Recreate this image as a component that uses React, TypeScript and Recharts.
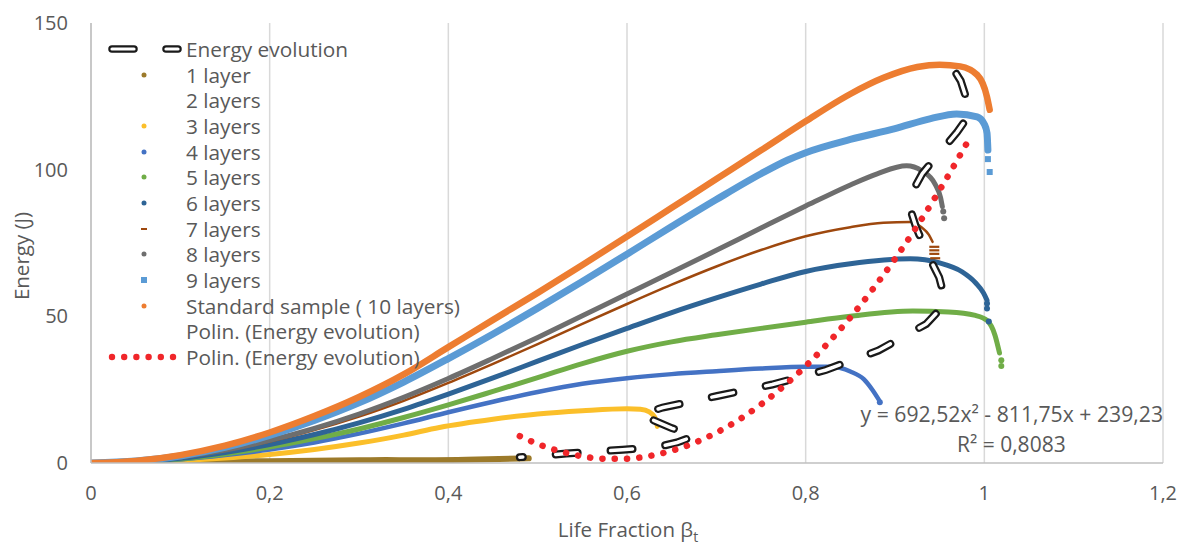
import React from 'react';
import { ComposedChart, Line, XAxis, YAxis, CartesianGrid } from 'recharts';

type P = [number, number];

const xTicks = [0, 0.2, 0.4, 0.6, 0.8, 1, 1.2];
const yTicks = [0, 50, 100, 150];

const energyEvolution: P[] = [
  [0.48, 2.0], [0.532, 3.2], [0.595, 4.5], [0.635, 5.5], [0.656, 7.0], [0.677, 9.3],
  [0.65, 11.9], [0.615, 16.5], [0.64, 18.9], [0.701, 22.85], [0.7625, 26.75],
  [0.8225, 31.7], [0.8815, 38.35], [0.935, 47.4], [0.957, 54.5], [0.9495, 63.25],
  [0.936, 71.5], [0.9235, 80.45], [0.914, 89.5], [0.9305, 98.65], [0.9695, 112.8],
  [0.985, 119.5], [0.9735, 130.3], [0.962, 136],
];

const trendline: P[] = [
  [0.48, 9.15], [0.5, 6.49], [0.525, 4.0], [0.55, 2.26], [0.575, 1.45], [0.6, 1.49],
  [0.625, 2.4], [0.65, 4.18], [0.675, 6.8], [0.7, 10.34], [0.725, 14.7], [0.75, 19.96],
  [0.775, 26.1], [0.8, 33.04], [0.825, 40.9], [0.85, 49.59], [0.875, 59.2], [0.9, 69.6],
  [0.925, 80.9], [0.95, 93.07], [0.98, 108.8],
];

const layer1: P[] = [
  [0, 0], [0.05, 0.2], [0.1, 0.35], [0.2, 0.6], [0.3, 0.95], [0.33, 1.0], [0.36, 0.9],
  [0.42, 1.1], [0.49, 1.6],
];
const layer3: P[] = [
  [0, 0], [0.05, 0.2], [0.1, 0.8], [0.15, 1.7], [0.2, 2.9], [0.25, 4.6], [0.3, 6.8],
  [0.35, 9.5], [0.39, 12.1], [0.45, 14.9], [0.5, 16.7], [0.55, 17.8], [0.6, 18.5],
  [0.615, 18.3], [0.625, 17.4], [0.631, 15.6], [0.634, 12.5],
];
const layer4: P[] = [
  [0, 0], [0.05, 0.3], [0.1, 1.2], [0.15, 2.7], [0.2, 4.6], [0.25, 7.0], [0.3, 10.0],
  [0.35, 13.5], [0.4, 17.3], [0.45, 20.9], [0.5, 24.2], [0.55, 27.0], [0.6, 28.9],
  [0.65, 30.3], [0.7, 31.3], [0.75, 32.2], [0.8, 32.8], [0.83, 32.8], [0.85, 31.2],
  [0.865, 28.6], [0.875, 24.8], [0.882, 21.5],
];
const layer4Tail: P[] = [[0.883, 20.7]];
const layer5: P[] = [
  [0, 0], [0.05, 0.4], [0.1, 1.4], [0.15, 3.1], [0.2, 5.4], [0.25, 8.3], [0.3, 11.6],
  [0.35, 15.5], [0.4, 19.8], [0.45, 24.4], [0.5, 29.1], [0.55, 33.9], [0.6, 38.1],
  [0.65, 41.3], [0.7, 43.7], [0.75, 45.9], [0.8, 48.0], [0.85, 50.0], [0.92, 51.8],
  [0.96, 51.5], [0.99, 50.3], [1.003, 48.6], [1.012, 43.5], [1.017, 37.5],
];
const layer5Tail: P[] = [[1.019, 35.0], [1.019, 33.1]];
const layer6: P[] = [
  [0, 0], [0.05, 0.45], [0.1, 1.6], [0.15, 3.6], [0.2, 6.3], [0.25, 9.7], [0.3, 13.7],
  [0.35, 18.3], [0.4, 23.5], [0.45, 29.0], [0.5, 34.7], [0.55, 40.4], [0.6, 45.9],
  [0.65, 51.3], [0.7, 56.3], [0.75, 61.0], [0.8, 65.3], [0.85, 67.9], [0.917, 69.6],
  [0.95, 68.2], [0.975, 65.2], [0.99, 61.5], [0.999, 58.0], [1.003, 55.5],
];
const layer6Tail: P[] = [[1.003, 54.4], [1.003, 52.7], [1.005, 48.2]];
const layer7: P[] = [
  [0, 0], [0.05, 0.5], [0.1, 1.9], [0.15, 4.2], [0.2, 7.3], [0.25, 11.2], [0.3, 15.8],
  [0.35, 21.2], [0.4, 27.3], [0.45, 33.8], [0.5, 40.5], [0.55, 47.4], [0.6, 54.2],
  [0.65, 60.8], [0.7, 67.0], [0.75, 72.6], [0.8, 77.3], [0.85, 80.4], [0.887, 81.9],
  [0.917, 82.2], [0.93, 80.3], [0.938, 77.8], [0.942, 75.4],
];
const layer7Tail: P[] = [[0.944, 73.7], [0.944, 72.5], [0.944, 71.3], [0.945, 69.8]];
const layer8: P[] = [
  [0, 0], [0.05, 0.55], [0.1, 2.0], [0.15, 4.4], [0.2, 7.7], [0.25, 11.8], [0.3, 16.7],
  [0.35, 22.4], [0.4, 28.8], [0.45, 35.7], [0.5, 42.8], [0.55, 50.2], [0.6, 57.6],
  [0.65, 65.0], [0.7, 72.5], [0.75, 80.1], [0.8, 87.6], [0.85, 94.8], [0.88, 98.6],
  [0.913, 101.3], [0.93, 99.6], [0.945, 95.0], [0.951, 90.5], [0.953, 87.4],
];
const layer8Tail: P[] = [[0.954, 85.7], [0.955, 83.4]];
const layer9: P[] = [
  [0, 0], [0.05, 0.65], [0.1, 2.4], [0.15, 5.3], [0.2, 9.4], [0.25, 14.5], [0.3, 20.5],
  [0.35, 27.6], [0.4, 35.6], [0.45, 44.0], [0.5, 52.8], [0.55, 61.9], [0.6, 71.2],
  [0.65, 80.6], [0.7, 89.8], [0.75, 98.6], [0.78, 103.3], [0.8, 105.8], [0.85, 110.3],
  [0.9, 114.0], [0.94, 117.4], [0.969, 119.0], [0.992, 118.0], [1.0, 115.5], [1.003, 112.5],
  [1.004, 106.7],
];
const layer9Tail: P[] = [[1.004, 103.6], [1.006, 99.2]];
const layer10: P[] = [
  [0, 0], [0.05, 0.7], [0.1, 2.7], [0.15, 5.9], [0.2, 10.4], [0.25, 16.0], [0.3, 22.5],
  [0.35, 30.2], [0.4, 39.5], [0.45, 48.8], [0.5, 58.0], [0.55, 67.5], [0.6, 77.2],
  [0.65, 87.0], [0.7, 96.8], [0.75, 106.6], [0.8, 116.5], [0.85, 125.8], [0.887, 131.3],
  [0.925, 135.0], [0.95, 135.8], [0.973, 135.2], [0.992, 132.3], [1.003, 124.8], [1.006, 120.4],
];

const legendLabels = [
  'Energy evolution', '1 layer', '2 layers', '3 layers', '4 layers', '5 layers', '6 layers',
  '7 layers', '8 layers', '9 layers', 'Standard sample ( 10 layers)',
  'Polin. (Energy evolution)', 'Polin. (Energy evolution)',
];

const C = {
  l1: '#9C7A2A', l3: '#FBBF2A', l4: '#4472C4', l5: '#70AD47', l6: '#2E6496', l7: '#9E480E',
  l8: '#6E6E6E', l9: '#5B9BD5', l10: '#ED7D31', red: '#F0262A', text: '#595959',
};

const toRows = (a: P[]) => a.map(([x, y]) => ({ x, y }));
const FONT = '"Open Sans", Lato, sans-serif';

const circleDot = (color: string, r: number) => (p: any) =>
  <circle key={p.index} cx={p.cx} cy={p.cy} r={r} fill={color} />;
const squareDot = (color: string, s: number) => (p: any) =>
  <rect key={p.index} x={p.cx - s / 2} y={p.cy - s / 2} width={s} height={s} fill={color} />;
const dashDot = (color: string) => (p: any) =>
  <rect key={p.index} x={p.cx - 5} y={p.cy - 1.1} width={10} height={2.2} fill={color} />;

function body(key: string, data: P[], color: string, w: number) {
  return (
    <Line key={key} data={toRows(data)} dataKey="y" type="monotone" stroke={color}
      strokeWidth={w} strokeLinecap="round" strokeLinejoin="round" dot={false}
      activeDot={false} isAnimationActive={false} />
  );
}
function tail(key: string, data: P[], dot: any) {
  return (
    <Line key={key} data={toRows(data)} dataKey="y" type="linear" stroke="none"
      dot={dot} activeDot={false} isAnimationActive={false} />
  );
}

function LegendSymbol({ i }: { i: number }) {
  const cy = 12;
  if (i === 0) {
    return (
      <svg width={90} height={24}>
        <line x1={14} y1={cy} x2={36} y2={cy} stroke="#1a1a1a" strokeWidth={7.5} strokeLinecap="round" />
        <line x1={14} y1={cy} x2={36} y2={cy} stroke="#fff" strokeWidth={3.2} strokeLinecap="round" />
        <line x1={68} y1={cy} x2={80} y2={cy} stroke="#1a1a1a" strokeWidth={7.5} strokeLinecap="round" />
        <line x1={68} y1={cy} x2={80} y2={cy} stroke="#fff" strokeWidth={3.2} strokeLinecap="round" />
      </svg>
    );
  }
  if (i === 12) {
    return (
      <svg width={90} height={24}>
        {[0, 1, 2, 3, 4, 5].map((k) => (
          <circle key={k} cx={14 + k * 12.2} cy={cy} r={3.2} fill={C.red} />
        ))}
      </svg>
    );
  }
  const m: Record<number, any> = {
    1: <circle cx={46} cy={cy} r={2.5} fill={C.l1} />,
    3: <circle cx={46} cy={cy} r={2.5} fill={C.l3} />,
    4: <circle cx={46} cy={cy} r={2.5} fill={C.l4} />,
    5: <circle cx={46} cy={cy} r={2.5} fill={C.l5} />,
    6: <circle cx={46} cy={cy} r={2.5} fill={C.l6} />,
    7: <rect x={43} y={cy - 1} width={6} height={2} fill={C.l7} />,
    8: <circle cx={46} cy={cy} r={2.5} fill={C.l8} />,
    9: <rect x={43} y={cy - 3} width={6} height={6} fill={C.l9} />,
    10: <circle cx={46} cy={cy} r={2.5} fill={C.l10} />,
  };
  return <svg width={90} height={24}>{m[i] ?? null}</svg>;
}

export default function App() {
  const fmt = (v: number) => String(v).replace('.', ',');
  const lineProps = { dot: false as const, activeDot: false as const, isAnimationActive: false };
  return (
    <div style={{ position: 'absolute', left: 0, top: 0, width: 1179, height: 546, background: '#fff', fontFamily: FONT }}>
      <ComposedChart width={1179} height={546} margin={{ top: 23, right: 16, left: 0, bottom: 0 }}>
        <CartesianGrid horizontal={false} stroke="#D9D9D9" strokeWidth={1.5} />
        <XAxis type="number" dataKey="x" domain={[0, 1.2]} ticks={xTicks} tickFormatter={fmt}
          height={83} tickSize={0} tickMargin={23} axisLine={{ stroke: '#BFBFBF', strokeWidth: 1.5 }}
          tick={{ fill: C.text, fontSize: 20, fontFamily: FONT }} allowDataOverflow />
        <YAxis type="number" domain={[0, 150]} ticks={yTicks} width={91} tickSize={0} tickMargin={23}
          axisLine={{ stroke: '#BFBFBF', strokeWidth: 1.5 }}
          tick={{ fill: C.text, fontSize: 20, fontFamily: FONT }} allowDataOverflow />
        {body('l1', layer1, C.l1, 6)}
        {body('l3', layer3, C.l3, 5)}
        {body('l4', layer4, C.l4, 4.5)}
        {tail('l4t', layer4Tail, circleDot(C.l4, 3))}
        {body('l5', layer5, C.l5, 5)}
        {tail('l5t', layer5Tail, circleDot(C.l5, 3))}
        {body('l6', layer6, C.l6, 5)}
        {tail('l6t', layer6Tail, circleDot(C.l6, 3))}
        {body('l7', layer7, C.l7, 2.5)}
        {tail('l7t', layer7Tail, dashDot(C.l7))}
        {body('l8', layer8, C.l8, 5)}
        {tail('l8t', layer8Tail, circleDot(C.l8, 3))}
        {body('l9', layer9, C.l9, 7)}
        {tail('l9t', layer9Tail, squareDot(C.l9, 6))}
        {body('l10', layer10, C.l10, 6.5)}
        <Line data={toRows(energyEvolution)} dataKey="y" type="linear" stroke="#1a1a1a" strokeWidth={8}
          strokeDasharray="22 33" strokeDashoffset={19} strokeLinecap="round" {...lineProps} />
        <Line data={toRows(energyEvolution)} dataKey="y" type="linear" stroke="#ffffff" strokeWidth={3.5}
          strokeDasharray="22 33" strokeDashoffset={19} strokeLinecap="round" {...lineProps} />
        <Line data={toRows(trendline)} dataKey="y" type="monotone" stroke={C.red} strokeWidth={6.5}
          strokeDasharray="0.1 12.2" strokeLinecap="round" {...lineProps} />
      </ComposedChart>

      {legendLabels.map((t, i) => (
        <React.Fragment key={i}>
          <div style={{ position: 'absolute', left: 98, top: 37 + i * 25.65, width: 90, height: 24 }}>
            <LegendSymbol i={i} />
          </div>
          <div style={{ position: 'absolute', left: 186, top: 35 + i * 25.65, fontSize: 20.8, color: C.text, whiteSpace: 'nowrap', lineHeight: '28px' }}>{t}</div>
        </React.Fragment>
      ))}

      <div style={{ position: 'absolute', right: 1179 - 1163, top: 400, fontSize: 21.2, color: C.text, whiteSpace: 'nowrap', lineHeight: '28px' }}>
        y = 692,52x² - 811,75x + 239,23
      </div>
      <div style={{ position: 'absolute', left: 957, top: 430, fontSize: 21, color: C.text, whiteSpace: 'nowrap', lineHeight: '28px' }}>
        R² = 0,8083
      </div>
      <div style={{ position: 'absolute', left: 0, width: 1256, top: 515, textAlign: 'center', fontSize: 20.5, color: C.text, whiteSpace: 'nowrap', lineHeight: '28px' }}>
        Life Fraction β<sub style={{ fontSize: 14 }}>t</sub>
      </div>
      <div style={{ position: 'absolute', left: 21, top: 256, transform: 'translate(-50%, -50%) rotate(-90deg)', fontSize: 20.5, color: C.text, whiteSpace: 'nowrap', lineHeight: '28px' }}>
        Energy (J)
      </div>
    </div>
  );
}
